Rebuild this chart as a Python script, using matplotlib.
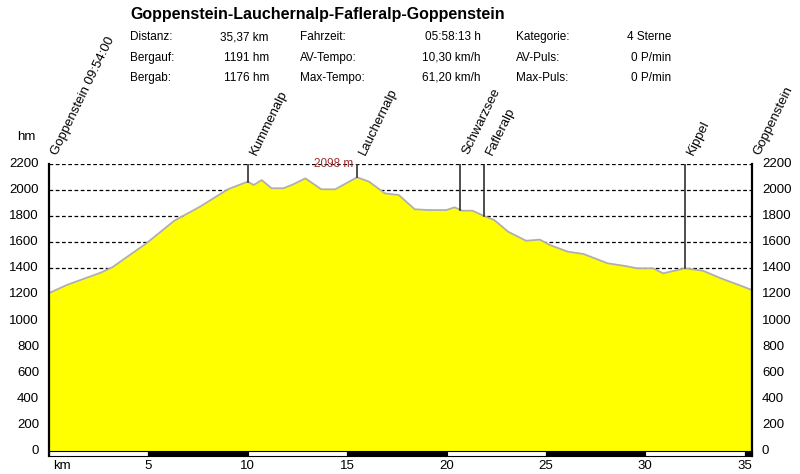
import matplotlib.pyplot as plt
from matplotlib.patches import Rectangle

plt.rcParams['font.family'] = ['Liberation Sans', 'DejaVu Sans']

# ------------------------------
# Profile data
# ------------------------------
km = [0, 0.9, 2.6, 3.2, 4.9, 6.3, 7.6, 9.0, 10.0, 10.3, 10.7, 11.2, 11.8, 12.3,
      12.9, 13.7, 14.4, 15.5, 16.1, 16.9, 17.6, 18.4, 19.1, 20.0, 20.4, 20.8,
      21.3, 21.9, 22.4, 23.1, 24.0, 24.7, 25.2, 26.1, 26.9, 28.1, 29.0, 29.6,
      30.4, 30.9, 32.0, 32.9, 33.8, 34.7, 35.37]
elev = [1210, 1273, 1367, 1410, 1592, 1765, 1873, 2006, 2065, 2039, 2077, 2014,
        2014, 2045, 2090, 2006, 2006, 2098, 2065, 1975, 1962, 1853, 1847, 1847,
        1868, 1842, 1842, 1801, 1771, 1681, 1612, 1620, 1579, 1528, 1510, 1439,
        1418, 1400, 1400, 1362, 1400, 1382, 1324, 1273, 1234]

way_names = ["Kummenalp", "Lauchernalp", "Schwarzsee", "Fafleralp", "Kippel"]
way_km = [10.0, 15.5, 20.7, 21.9, 32.0]
way_elev = [2065, 2098, 1850, 1801, 1400]

start_label = "Goppenstein 09:54:00"
end_label = "Goppenstein"
max_elev = 2098

title = "Goppenstein-Lauchernalp-Fafleralp-Goppenstein"
stats = [
    [("Distanz:", "35,37 km"), ("Bergauf:", "1191 hm"), ("Bergab:", "1176 hm")],
    [("Fahrzeit:", "05:58:13 h"), ("AV-Tempo:", "10,30 km/h"), ("Max-Tempo:", "61,20 km/h")],
    [("Kategorie:", "4 Sterne"), ("AV-Puls:", "0 P/min"), ("Max-Puls:", "0 P/min")],
]

y_ticks = list(range(0, 2201, 200))
x_ticks = [5, 10, 15, 20, 25, 30, 35]
total_km = 35.37

# ------------------------------
# Figure
# ------------------------------
W, H = 800, 474
fig = plt.figure(figsize=(8, 4.74), dpi=100)
ax = fig.add_axes([49 / W, (H - 451) / H, (752 - 49) / W, (451 - 164) / H])
ax.set_xlim(0, total_km)
ax.set_ylim(0, 2200)

for y in y_ticks[1:]:
    ax.axhline(y, color='black', lw=0.9, ls=(0, (3, 2)), zorder=1)

ax.fill_between(km, elev, 0, color='#ffff00', zorder=2, lw=0)
ax.plot(km, elev, color='#b0b0a8', lw=1.3, zorder=3)

# waypoint lines
for wk, we in zip(way_km, way_elev):
    ax.plot([wk, wk], [we, 2200], color='#303030', lw=1.2, zorder=4)

ax.text(15.3, 2200, f"{max_elev} m", color='#a03030', fontsize=8.5,
        ha='right', va='center', zorder=5)

# rotated labels
for name, wk in zip([start_label] + way_names + [end_label],
                    [0] + way_km + [total_km]):
    ax.annotate(name, (wk, 2200), xytext=(0, 9), textcoords='offset points',
                rotation=64, rotation_mode='anchor', ha='left', va='top',
                fontsize=9.5, annotation_clip=False)

# km bar
edges = [0, 5, 10, 15, 20, 25, 30, 35, total_km]
for i in range(len(edges) - 1):
    c = 'white' if i % 2 == 0 else 'black'
    ax.add_patch(Rectangle((edges[i], -38), edges[i + 1] - edges[i], 38,
                           facecolor=c, edgecolor='black', lw=0.8,
                           clip_on=False, zorder=5))

for s in ['top', 'bottom']:
    ax.spines[s].set_visible(False)
for s in ['left', 'right']:
    ax.spines[s].set_linewidth(1.6)
    ax.spines[s].set_bounds(-38, 2200)
    ax.spines[s].set_zorder(6)

ax.set_xticks([])
ax.set_yticks([])
for y in y_ticks:
    ax.text(-0.5, y, str(y), ha='right', va='center', fontsize=9.5, clip_on=False)
    ax.text(total_km + 0.5, y, str(y), ha='left', va='center', fontsize=9.5, clip_on=False)
for x in x_ticks:
    ax.text(x, -70, str(x), ha='center', va='top', fontsize=9.5, clip_on=False)
ax.text(0.2, -70, "km", ha='left', va='top', fontsize=9.5, clip_on=False)
fig.text(17 / W, 1 - 137 / H, "hm", ha='left', va='center', fontsize=9.5)

# ------------------------------
# Header
# ------------------------------
fig.text(130 / W, 1 - 14 / H, title, fontsize=11.5, fontweight='bold',
         ha='left', va='center')
col_label_x = [130, 300, 516]
col_val_x = [269, 481, 671]
row_y = [37, 58, 78]
for c, col in enumerate(stats):
    for r, (lab, val) in enumerate(col):
        fig.text(col_label_x[c] / W, 1 - row_y[r] / H, lab, fontsize=8.5,
                 ha='left', va='center')
        fig.text(col_val_x[c] / W, 1 - row_y[r] / H, val, fontsize=8.5,
                 ha='right', va='center')

fig.savefig("out.png", dpi=100)
